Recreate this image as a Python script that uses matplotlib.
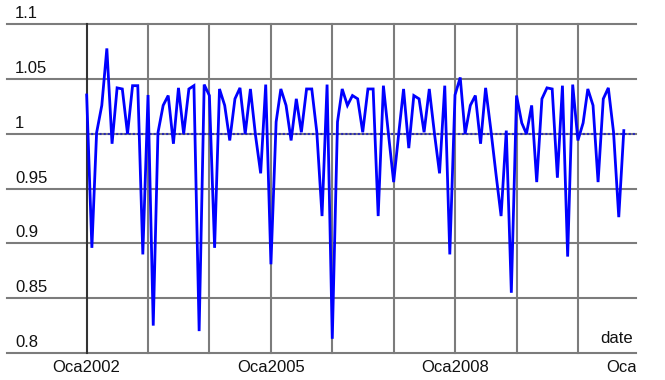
import pandas as pd
import matplotlib.pyplot as plt
import matplotlib.transforms as mtransforms

plt.rcParams['font.family'] = ['Liberation Sans', 'DejaVu Sans']

# monthly ratio series, Jan 2002 .. Oct 2010
values = [
    1.0355, 0.896, 1.001, 1.026, 1.078, 0.991, 1.042, 1.041, 1.000, 1.044, 1.044, 0.890,
    1.0355, 0.825, 1.001, 1.026, 1.035, 0.991, 1.042, 1.000, 1.041, 1.044, 0.820, 1.045,
    1.035, 0.896, 1.041, 1.026, 0.994, 1.032, 1.042, 1.000, 1.041, 0.999, 0.964, 1.045,
    0.881, 1.011, 1.041, 1.026, 0.994, 1.032, 1.0015, 1.041, 1.041, 1.0015, 0.925, 1.045,
    0.813, 1.011, 1.041, 1.026, 1.035, 1.032, 1.0015, 1.041, 1.041, 0.925, 1.044, 1.000,
    0.956, 1.0015, 1.041, 0.987, 1.035, 1.032, 1.0015, 1.041, 1.000, 0.964, 1.044, 0.890,
    1.0355, 1.0515, 1.000, 1.026, 1.035, 0.991, 1.042, 1.004, 0.963, 0.925, 1.003, 0.855,
    1.035, 1.010, 1.000, 1.026, 0.956, 1.032, 1.042, 1.041, 0.960, 1.044, 0.888, 1.045,
    0.994, 1.010, 1.041, 1.026, 0.956, 1.032, 1.042, 1.0015, 0.924, 1.003,
]
start_month = '2002-01-01'
grid_years = list(range(2002, 2011))
label_years = [2002, 2005, 2008, 2011]
y_levels = [0.8, 0.85, 0.9, 0.95, 1.0, 1.05, 1.1]
reference_level = 1.0

dates = pd.date_range(start_month, periods=len(values), freq='MS')
x_left = pd.Timestamp('2000-09-14')
x_right = pd.Timestamp('2010-12-13')

fig = plt.figure(figsize=(6.65, 3.8), dpi=100)
ax = fig.add_axes([0.0105, 0.071, 0.946, 0.865])
ax.set_xlim(x_left, x_right)
ax.set_ylim(0.8, 1.1)
for s in ax.spines.values():
    s.set_visible(False)
ax.set_xticks([])
ax.set_yticks([])

grid_color = '#7c7c7c'
for v in y_levels:
    ax.axhline(v, color=grid_color, lw=1.5, zorder=1, clip_on=False)
for i, y in enumerate(grid_years):
    ax.axvline(pd.Timestamp(f'{y}-01-01'), color='#333333' if i == 0 else grid_color,
               lw=1.5, zorder=1.2 if i == 0 else 1, clip_on=False)

# dotted reference level and the series
ax.hlines(reference_level, dates[0], x_right, colors='#2a2ab8',
          linestyles=(0, (1, 1)), lw=1.5, zorder=2)
ax.plot(dates, values, color='#0000ff', lw=2.0, zorder=3, solid_joinstyle='miter')

fs = 12
# y labels sit just above their grid lines at the far left
ylab_tr = mtransforms.offset_copy(ax.get_yaxis_transform(), fig=fig, x=0, y=4.3, units='points')
for v in y_levels:
    ax.text(0.0127, v, f'{v:g}', transform=ylab_tr, ha='left', va='baseline',
            fontsize=fs, color='#111111', clip_on=False)

# year labels under the bottom line, clipped at the right edge of the plot
clip = mtransforms.TransformedBbox(mtransforms.Bbox([[0, 0], [0.957, 1]]), fig.transFigure)
xlab_tr = mtransforms.offset_copy(ax.get_xaxis_transform(), fig=fig, x=0, y=-5, units='points')
for y in label_years:
    t = ax.text(pd.Timestamp(f'{y}-01-01'), 0, f'Oca{y}', transform=xlab_tr,
                ha='center', va='top', fontsize=fs, color='#111111')
    t.set_clip_on(True)
    t.set_clip_box(clip)

date_tr = mtransforms.offset_copy(ax.transAxes, fig=fig, x=0, y=7.5, units='points')
ax.text(0.995, 0, 'date', transform=date_tr, ha='right', va='baseline',
        fontsize=fs, color='#111111')

fig.savefig('out.png', dpi=100)
